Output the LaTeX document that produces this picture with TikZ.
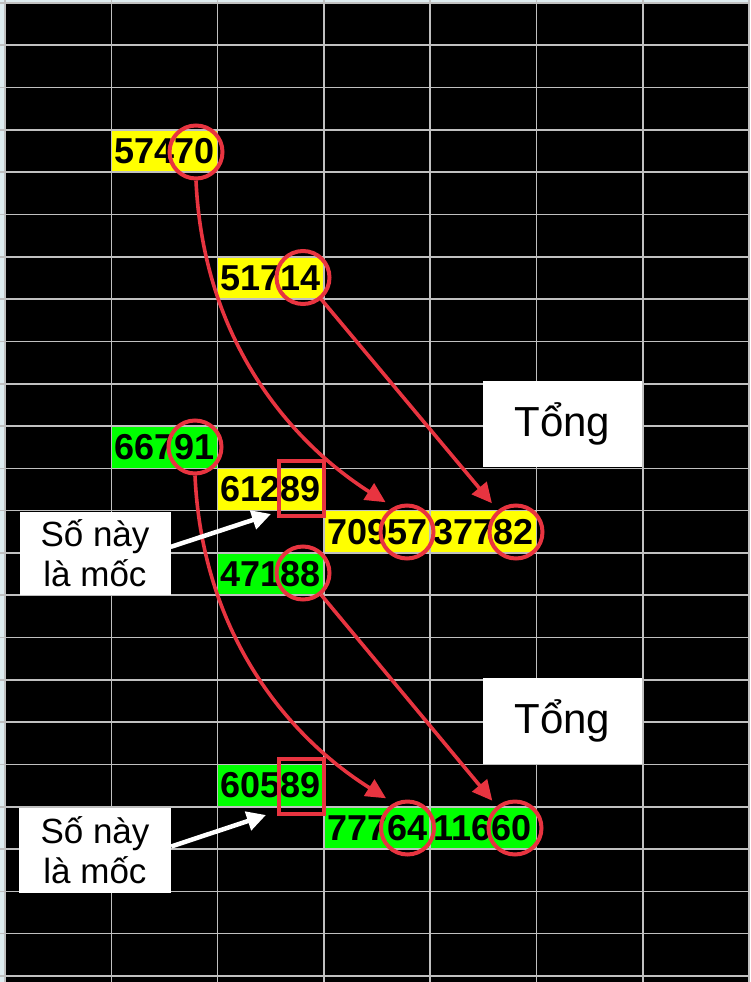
\documentclass[tikz,border=0pt]{standalone}
\usepackage{fontspec}
\setmainfont{Liberation Sans}
\usetikzlibrary{arrows.meta}
\definecolor{myred}{RGB}{232,52,64}
\definecolor{gridc}{RGB}{192,192,192}
\definecolor{edgec}{RGB}{222,236,240}
\definecolor{cyel}{RGB}{255,255,0}
\definecolor{cgrn}{RGB}{0,255,0}
\begin{document}
\begin{tikzpicture}[x=1pt,y=-1pt,
  num/.style={anchor=west, inner sep=0pt, text=black, font=\bfseries\fontsize{36}{36}\selectfont},
  ring/.style={circle, draw=myred, line width=4pt, minimum size=53pt, inner sep=0pt},
  sqbox/.style={rectangle, draw=myred, line width=4pt, minimum width=45pt, minimum height=55pt, inner sep=0pt},
  redarrow/.style={draw=myred, line width=3.6pt, -{Triangle[length=20pt,width=19pt]}},
  whitearrow/.style={draw=white, line width=4.5pt, -{Triangle[length=19pt,width=19pt]}},
  lbl/.style={fill=white, align=center, inner sep=0pt, font=\fontsize{35}{40}\selectfont},
  sumbox/.style={fill=white, inner sep=0pt, minimum width=159pt, minimum height=86pt, font=\fontsize{42}{42}\selectfont},
  gridline/.style={draw=gridc, line width=1.6pt}
]
\useasboundingbox (0,0) rectangle (750,982);
\fill[edgec] (0,0) rectangle (750,982);
\fill[black] (5,3) rectangle (750,982);
% cell fills
\foreach \c/\r/\col in {1/3/cyel, 2/6/cyel, 1/10/cgrn, 2/11/cyel, 3/12/cyel, 4/12/cyel, 2/13/cgrn, 2/18/cgrn, 3/19/cgrn, 4/19/cgrn}
  \fill[\col] ({5+106.3*\c},{3+42.3*\r}) rectangle ++(106.3,42.3);
% grid
\foreach \k in {0,...,7} \draw[gridline] ({5+106.3*\k},0) -- ({5+106.3*\k},982);
\foreach \k in {0,...,23} \draw[gridline] (0,{3+42.3*\k}) -- (750,{3+42.3*\k});
% numbers
\node[num] (n1) at ({5+106.3*1+3},{3+42.3*3+21.15}) {57470};
\node[num] (n2) at ({5+106.3*2+3},{3+42.3*6+21.15}) {51714};
\node[num] (n3) at ({5+106.3*1+3},{3+42.3*10+21.15}) {66791};
\node[num] (n4) at ({5+106.3*2+3},{3+42.3*11+21.15}) {61289};
\node[num] (n5) at ({5+106.3*3+3},{3+42.3*12+21.15}) {70957};
\node[num] (n6) at ({5+106.3*4+3},{3+42.3*12+21.15}) {37782};
\node[num] (n7) at ({5+106.3*2+3},{3+42.3*13+21.15}) {47188};
\node[num] (n8) at ({5+106.3*2+3},{3+42.3*18+21.15}) {60589};
\node[num] (n9) at ({5+106.3*3+3},{3+42.3*19+21.15}) {77764};
\node[num] (n10) at ({5+106.3*4+3},{3+42.3*19+21.15}) {11660};
% circles and squares
\node[ring] (c70) at (196,152) {};
\node[ring] (c14) at (303,277.5) {};
\node[ring] (c91) at (195,447) {};
\node[ring] (c57) at (407,532) {};
\node[ring] (c82) at (516,532) {};
\node[ring] (c88) at (303,573) {};
\node[ring] (c64) at (407.5,828) {};
\node[ring] (c60) at (515,828) {};
\node[sqbox] (sq1) at (301.5,488.5) {};
\node[sqbox] (sq2) at (301.5,786.5) {};
% boxes
\node[sumbox] (s1) at (562.3,424) {Tổng};
\node[sumbox] (s2) at (562.3,720.7) {Tổng};
\node[lbl, minimum width=151pt, minimum height=83pt] (lab1) at (95,553.5) {Số này\\là mốc};
\node[lbl, minimum width=152pt, minimum height=85pt] (lab2) at (95,850.5) {Số này\\là mốc};
% red arrows
\draw[redarrow, shorten >=9pt] (c70.south) .. controls (203,335) and (285,438) .. (c57.119);
\draw[redarrow, shorten >=9pt] (c14) -- (c82);
\draw[redarrow, shorten >=9pt] (c91.south) .. controls (202,630) and (284,734) .. (c64.119);
\draw[redarrow, shorten >=7pt] (c88) -- (c60);
% white arrows
\coordinate (t1) at (271,514);
\coordinate (t2) at (266,815);
\draw[whitearrow] (lab1.5) -- (t1);
\draw[whitearrow] (lab2.3) -- (t2);
\end{tikzpicture}
\end{document}
